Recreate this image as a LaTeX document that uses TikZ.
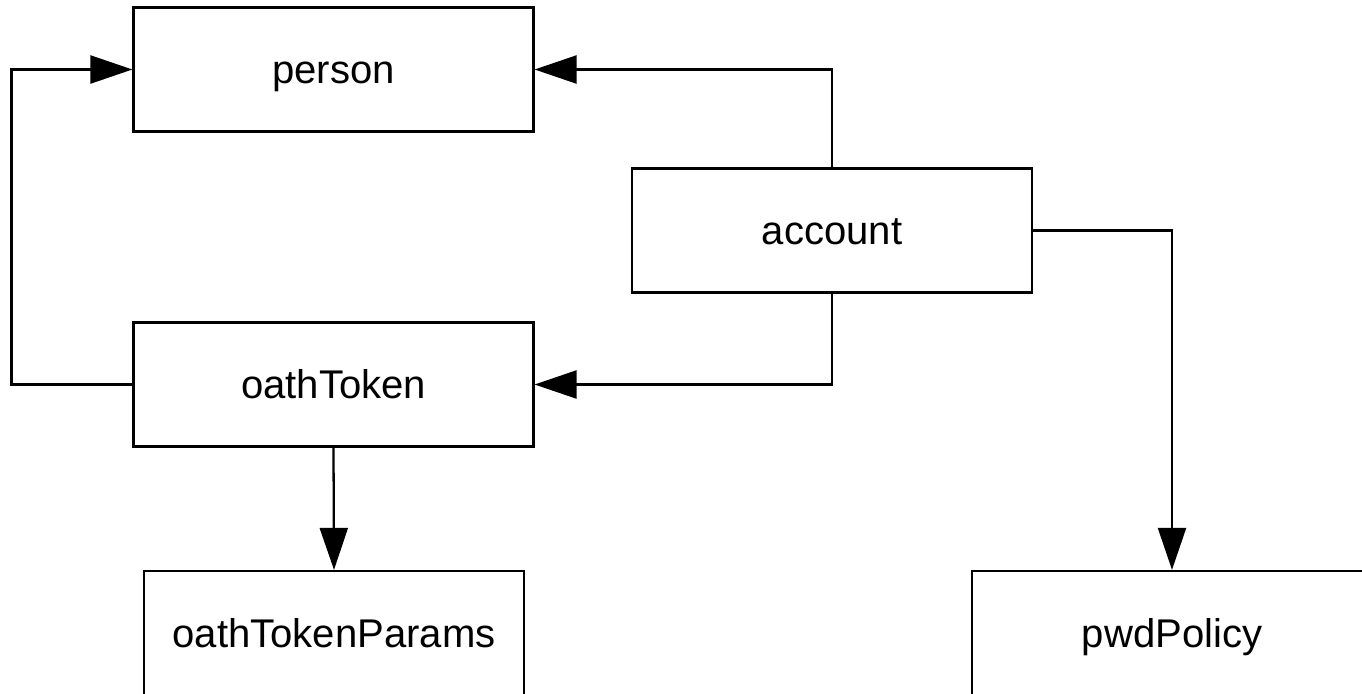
\documentclass[tikz,border=0pt]{standalone}
\usepackage{fontspec}
\setmainfont{Liberation Sans}
\usetikzlibrary{arrows.meta}

\begin{document}
\begin{tikzpicture}[
    x=0.02cm, y=-0.02cm,
    >={Triangle[length=0.84cm, width=0.56cm]},
    every node/.style={align=center, font=\fontsize{22.8}{27}\selectfont}
]

\tikzset{
    entitybox/.style={draw, rectangle, line width=1.3pt, minimum width=8cm, minimum height=2.48cm, inner sep=0pt, text height=20pt, text depth=4pt},
    linkarrow/.style={->, line width=1.3pt}
}

\useasboundingbox (0,0) rectangle (1362,693);
\clip (0,0) rectangle (1362,693);

\node [entitybox] (person) at (333.5,69.5) {person};

\node [entitybox] (account) at (832,230.5) {account};

\node [entitybox] (oathToken) at (333.5,384.5) {oathToken};

\node [entitybox, minimum width=7.6cm] (oathTokenParams) at (334,633) {oathTokenParams};

\node [entitybox] (pwdPolicy) at (1172,633) {pwdPolicy};

\draw [linkarrow] (oathToken.west) -- ++(-121,0) |- (person.west);

\draw [linkarrow] (account.north) |- (person.east);

\draw [linkarrow] (account.south) |- (oathToken.east);

\draw [linkarrow] (account.east) -| (pwdPolicy.north);

\draw [linkarrow] (oathToken.south) -- (oathTokenParams.north);

\end{tikzpicture}
\end{document}
